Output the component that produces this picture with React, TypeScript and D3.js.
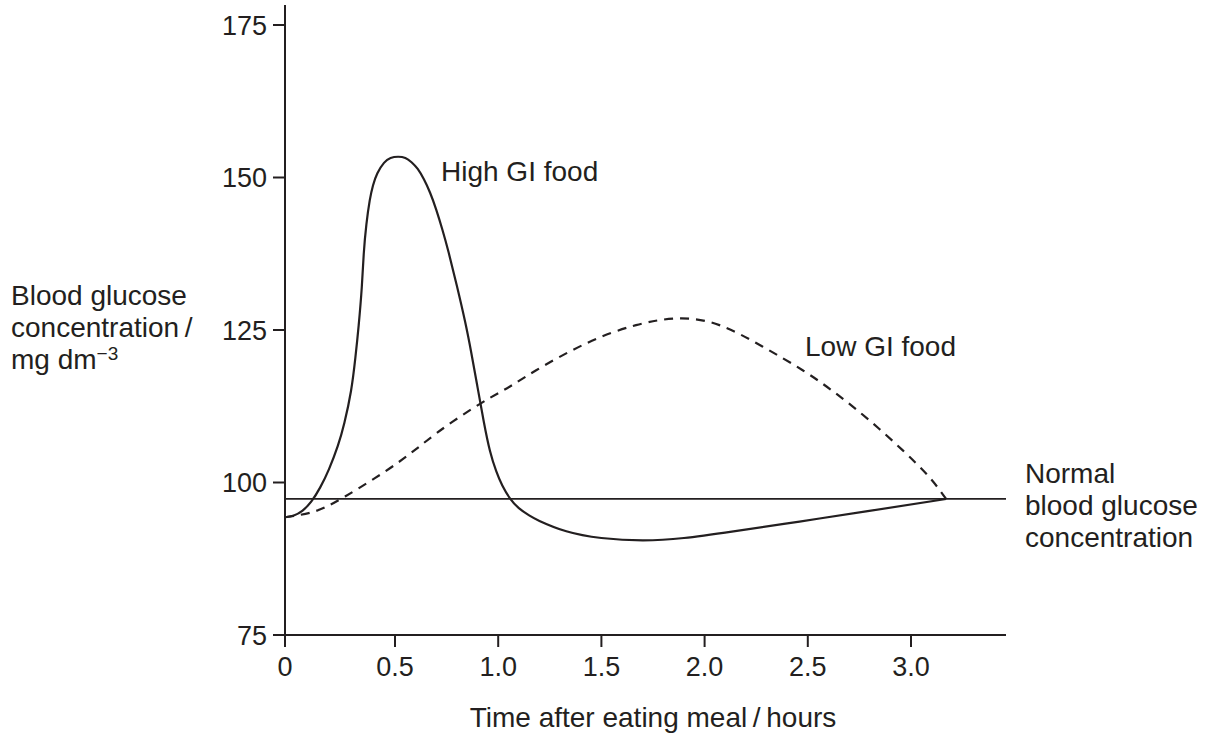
import React from "react";
import * as d3 from "d3";

// ---- data ----
const xTicks = [0, 0.5, 1.0, 1.5, 2.0, 2.5, 3.0];
const xTickLabels = ["0", "0.5", "1.0", "1.5", "2.0", "2.5", "3.0"];
const yTicks = [75, 100, 125, 150, 175];
const yTickLabels = ["75", "100", "125", "150", "175"];

const normalLevel = 97.3;

const highGITime = [
  0.0, 0.04, 0.08, 0.12, 0.16, 0.2, 0.24, 0.27, 0.3, 0.32, 0.335, 0.349, 0.358, 0.37, 0.385, 0.4, 0.42,
  0.45, 0.48, 0.515, 0.55, 0.58, 0.61, 0.64, 0.67, 0.7, 0.73, 0.76, 0.8, 0.84, 0.87, 0.9, 0.93, 0.96,
  0.99, 1.02, 1.057, 1.1, 1.15, 1.2, 1.33, 1.5, 1.7, 1.9, 2.14, 2.46, 2.79, 3.17,
];
const highGIValue = [
  94.3, 94.6, 95.4, 96.9, 99.2, 102.2, 106.0, 109.8, 115.0, 120.5, 125.8, 132.0, 137.5, 142.3, 146.2,
  148.7, 150.7, 152.4, 153.2, 153.4, 153.2, 152.5, 151.4, 149.7, 147.5, 144.7, 141.4, 137.7, 132.2,
  126.3, 121.2, 115.6, 110.0, 105.2, 101.9, 99.5, 97.4, 95.8, 94.6, 93.7, 92.0, 90.9, 90.5, 90.9, 92.0,
  93.6, 95.3, 97.3,
];

const lowGITime = [
  0.0, 0.129, 0.273, 0.508, 0.702, 0.912, 1.055, 1.184, 1.426, 1.668, 1.878, 2.072, 2.28, 2.475, 2.636,
  2.798, 2.959, 3.088, 3.17,
];
const lowGIValue = [
  94.3, 95.2, 97.7, 103.1, 108.1, 112.9, 115.7, 118.4, 122.8, 125.8, 126.9, 125.8, 122.3, 118.4, 114.6,
  110.2, 105.3, 100.9, 97.3,
];

const W = 1213;
const H = 737;
const ink = "#231f20";
const font = "'Liberation Sans', Arial, Helvetica, sans-serif";

export default function App() {
  const x = d3.scaleLinear().domain([0, 0.5, 3.0]).range([285, 395, 911]);
  const y = d3.scaleLinear().domain([75, 175]).range([635, 25]);
  const xEnd = 1006;
  const yTop = 5;

  const line = d3
    .line<[number, number]>()
    .x((d) => x(d[0]))
    .y((d) => y(d[1]))
    .curve(d3.curveNatural);

  const high = highGITime.map((t, i) => [t, highGIValue[i]] as [number, number]);
  const low = lowGITime.map((t, i) => [t, lowGIValue[i]] as [number, number]);

  const x0 = x(0);
  const y0 = y(75);

  return (
    <svg
      width={W}
      height={H}
      viewBox={`0 0 ${W} ${H}`}
      style={{ position: "absolute", left: 0, top: 0, background: "#fff" }}
      fontFamily={font}
    >
      <rect x={0} y={0} width={W} height={H} fill="#fff" />
      {/* axes */}
      <line x1={x0} y1={yTop} x2={x0} y2={y0 + 1} stroke={ink} strokeWidth={2} />
      <line x1={x0 - 1} y1={y0} x2={xEnd} y2={y0} stroke={ink} strokeWidth={2} />
      {yTicks.map((v, i) => (
        <g key={"yt" + v}>
          <line x1={x0 - 12} x2={x0} y1={y(v)} y2={y(v)} stroke={ink} strokeWidth={2} />
          <text x={267} y={y(v)} dy="0.36em" textAnchor="end" fontSize={27} fill={ink}>
            {yTickLabels[i]}
          </text>
        </g>
      ))}
      {xTicks.map((t, i) => (
        <g key={"xt" + t}>
          <line x1={x(t)} x2={x(t)} y1={y0} y2={y0 + 12} stroke={ink} strokeWidth={2} />
          <text x={x(t)} y={676} textAnchor="middle" fontSize={27} fill={ink}>
            {xTickLabels[i]}
          </text>
        </g>
      ))}

      {/* normal level */}
      <line x1={x0} x2={xEnd} y1={y(normalLevel)} y2={y(normalLevel)} stroke={ink} strokeWidth={1.8} />

      {/* curves */}
      <path d={line(low) || ""} fill="none" stroke={ink} strokeWidth={2.2} strokeDasharray="9,7" />
      <path d={line(high) || ""} fill="none" stroke={ink} strokeWidth={2.2} />

      {/* labels */}
      <text x={441} y={181} fontSize={28} fill={ink}>High GI food</text>
      <text x={805} y={356} fontSize={28} fill={ink}>Low GI food</text>

      <text fontSize={28} fill={ink}>
        <tspan x={1025} y={483}>Normal</tspan>
        <tspan x={1025} y={515}>blood glucose</tspan>
        <tspan x={1025} y={547}>concentration</tspan>
      </text>

      <text fontSize={28} fill={ink}>
        <tspan x={11} y={305}>Blood glucose</tspan>
        <tspan x={11} y={337}>concentration{"\u2009"}/</tspan>
        <tspan x={11} y={369}>mg dm</tspan>
        <tspan fontSize={19} dy={-9}>{"\u22123"}</tspan>
      </text>

      <text x={653} y={727} textAnchor="middle" fontSize={28} fill={ink}>
        Time after eating meal{"\u2009"}/{"\u2009"}hours
      </text>
    </svg>
  );
}
